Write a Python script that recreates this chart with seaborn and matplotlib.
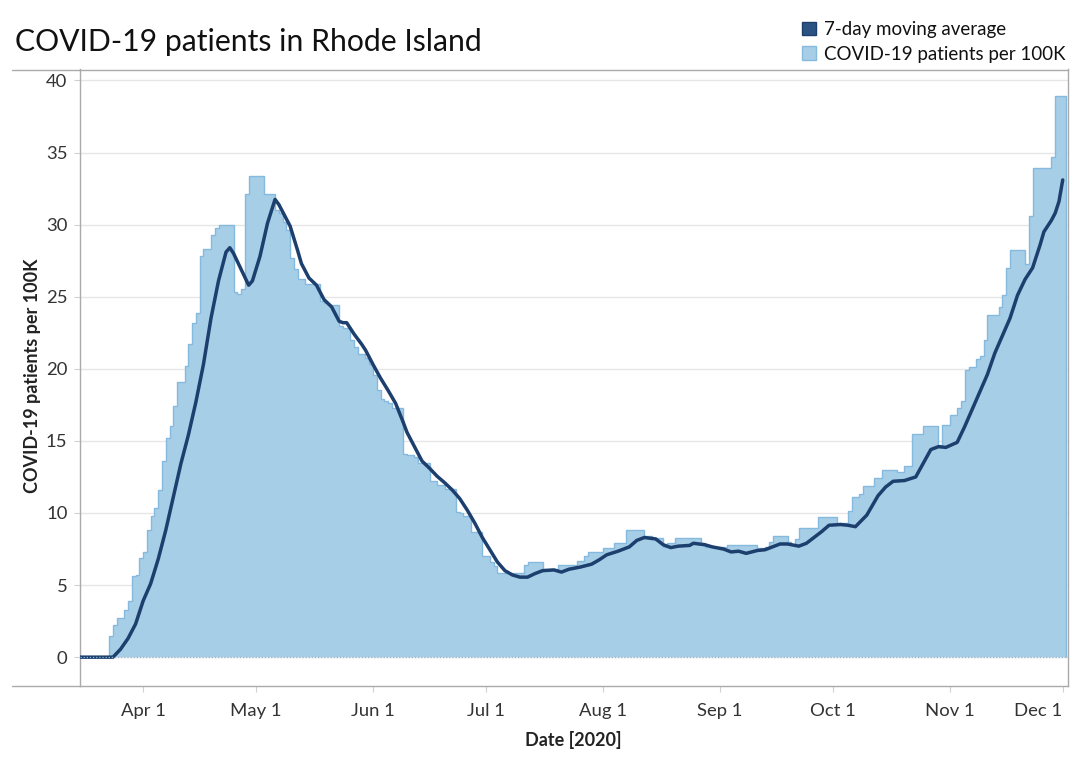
import pandas as pd
import matplotlib
matplotlib.use("Agg")
import matplotlib.pyplot as plt
import matplotlib.dates as mdates
from matplotlib.patches import Patch
from matplotlib.lines import Line2D
import seaborn as sns

# Pacientes COVID-19 por 100K (valores diarios)
start_date = "2020-03-15"
patients_mar = [0, 0, 0, 0, 0, 0, 0, 0, 1.46, 2.2, 2.7, 2.75, 3.3, 3.9, 5.6, 5.7, 6.9]
patients_apr = [7.3, 8.8, 9.8, 10.35, 11.6, 13.6, 15.2, 16.0, 17.4, 19.1,
                19.1, 20.2, 21.7, 23.2, 23.9, 27.8, 28.3, 28.3, 29.3, 29.8,
                30.0, 30.0, 30.0, 30.0, 25.3, 25.2, 25.55, 32.15, 33.4, 33.4]
patients_may = [33.4, 33.4, 32.15, 32.15, 32.15, 31.0, 30.8, 30.2, 29.6, 27.7,
                26.9, 26.25, 26.25, 25.9, 25.9, 25.9, 25.9, 24.7, 24.55, 24.4,
                24.4, 24.4, 23.0, 22.8, 22.8, 22.0, 21.5, 21.05, 21.05, 20.75, 20.35]
patients_jun = [19.6, 18.55, 17.9, 17.75, 17.6, 17.3, 17.3, 17.3, 14.1, 14.0,
                14.0, 13.9, 13.45, 13.45, 13.45, 12.25, 12.25, 11.95, 11.95, 11.65,
                11.65, 11.65, 10.1, 10.0, 9.8, 9.8, 8.7, 8.7, 8.7, 7.0]
patients_jul = [7.0, 6.6, 6.3, 5.85, 5.85, 5.85, 5.85, 5.85, 5.85, 5.85,
                6.4, 6.6, 6.6, 6.6, 6.6, 6.1, 6.1, 6.1, 6.1, 6.4,
                6.4, 6.4, 6.4, 6.4, 6.7, 6.7, 7.0, 7.3, 7.3, 7.3, 7.3]
patients_aug = [7.6, 7.6, 7.6, 7.95, 7.95, 7.95, 8.8, 8.8, 8.8, 8.8,
                8.8, 8.4, 8.4, 8.25, 8.25, 8.25, 7.65, 7.95, 7.95, 8.25,
                8.25, 8.25, 8.25, 8.25, 8.25, 8.25, 7.9, 7.65, 7.65, 7.65, 7.65]
patients_sep = [7.65, 7.65, 7.8, 7.8, 7.8, 7.8, 7.8, 7.8, 7.8, 7.8,
                7.6, 7.6, 7.65, 8.0, 8.4, 8.4, 8.4, 8.4, 8.0, 7.8,
                8.2, 8.95, 8.95, 8.95, 8.95, 8.95, 9.75, 9.75, 9.75, 9.75]
patients_oct = [9.75, 9.3, 9.3, 9.3, 10.15, 11.1, 11.1, 11.35, 11.9, 11.9,
                11.9, 12.4, 12.4, 13.0, 13.0, 13.0, 13.0, 12.85, 12.85, 13.25,
                13.25, 15.5, 15.5, 15.5, 16.0, 16.0, 16.0, 16.0, 14.7, 16.1, 16.1]
patients_nov = [16.8, 16.8, 17.3, 17.8, 19.9, 20.1, 20.1, 20.7, 20.9, 22.0,
                23.75, 23.75, 23.75, 24.3, 25.1, 27.0, 28.25, 28.25, 28.25, 28.25,
                27.3, 30.6, 33.9, 33.9, 33.9, 33.9, 33.9, 34.7, 38.9, 38.9]
patients_dec = [38.9]

# Media movel de 7 dias
ma_dates = ["2020-03-15", "2020-03-24", "2020-03-26", "2020-03-28", "2020-03-30",
            "2020-04-01", "2020-04-03", "2020-04-05", "2020-04-07", "2020-04-09",
            "2020-04-11", "2020-04-13", "2020-04-15", "2020-04-17", "2020-04-19",
            "2020-04-21", "2020-04-23", "2020-04-24", "2020-04-25", "2020-04-27",
            "2020-04-29", "2020-04-30", "2020-05-02", "2020-05-04", "2020-05-06",
            "2020-05-07", "2020-05-08", "2020-05-10", "2020-05-12", "2020-05-13",
            "2020-05-15", "2020-05-17", "2020-05-19", "2020-05-21", "2020-05-23",
            "2020-05-24", "2020-05-25", "2020-05-27", "2020-05-29", "2020-05-30",
            "2020-06-01", "2020-06-03", "2020-06-05", "2020-06-07", "2020-06-09",
            "2020-06-10", "2020-06-12", "2020-06-14", "2020-06-16", "2020-06-18",
            "2020-06-20", "2020-06-22", "2020-06-24", "2020-06-26", "2020-06-28",
            "2020-06-30", "2020-07-02", "2020-07-04", "2020-07-06", "2020-07-08",
            "2020-07-10", "2020-07-12", "2020-07-14", "2020-07-16", "2020-07-19",
            "2020-07-21", "2020-07-23", "2020-07-26", "2020-07-29", "2020-07-31",
            "2020-08-02", "2020-08-05", "2020-08-08", "2020-08-10", "2020-08-12",
            "2020-08-15", "2020-08-17", "2020-08-19", "2020-08-21", "2020-08-24",
            "2020-08-25", "2020-08-28", "2020-08-30", "2020-09-02", "2020-09-04",
            "2020-09-06", "2020-09-08", "2020-09-11", "2020-09-13", "2020-09-17",
            "2020-09-19", "2020-09-22", "2020-09-24", "2020-09-28", "2020-09-30",
            "2020-10-03", "2020-10-05", "2020-10-07", "2020-10-10", "2020-10-13",
            "2020-10-15", "2020-10-17", "2020-10-20", "2020-10-23", "2020-10-25",
            "2020-10-27", "2020-10-29", "2020-10-31", "2020-11-03", "2020-11-05",
            "2020-11-07", "2020-11-09", "2020-11-11", "2020-11-13", "2020-11-15",
            "2020-11-17", "2020-11-19", "2020-11-21", "2020-11-23", "2020-11-25",
            "2020-11-26", "2020-11-28", "2020-11-29", "2020-11-30", "2020-12-01"]
ma_values = [0, 0, 0.55, 1.3, 2.3,
             3.9, 5.1, 6.8, 8.8, 11.1,
             13.4, 15.4, 17.7, 20.3, 23.5,
             26.1, 28.1, 28.4, 28.0, 26.9,
             25.8, 26.1, 27.8, 30.1, 31.75,
             31.4, 30.9, 29.9, 28.2, 27.3,
             26.3, 25.8, 24.8, 24.3, 23.3,
             23.2, 23.2, 22.4, 21.7, 21.3,
             20.3, 19.35, 18.5, 17.6, 16.3,
             15.6, 14.6, 13.6, 13.1, 12.55,
             12.1, 11.6, 11.0, 10.2, 9.3,
             8.3, 7.45, 6.6, 6.0, 5.7,
             5.55, 5.55, 5.8, 6.0, 6.05,
             5.9, 6.1, 6.25, 6.45, 6.75,
             7.1, 7.35, 7.65, 8.1, 8.3,
             8.2, 7.8, 7.6, 7.7, 7.75,
             7.9, 7.8, 7.65, 7.5, 7.3,
             7.35, 7.2, 7.4, 7.45, 7.85,
             7.85, 7.7, 7.9, 8.7, 9.15,
             9.2, 9.15, 9.05, 9.85, 11.2,
             11.8, 12.2, 12.25, 12.5, 13.45,
             14.4, 14.6, 14.55, 14.9, 16.0,
             17.2, 18.4, 19.6, 21.1, 22.3,
             23.5, 25.1, 26.2, 27.0, 28.6,
             29.5, 30.3, 30.8, 31.6, 33.1]

tick_dates = ["2020-04-01", "2020-05-01", "2020-06-01", "2020-07-01", "2020-08-01",
              "2020-09-01", "2020-10-01", "2020-11-01", "2020-12-01"]
tick_labels = ["Apr 1", "May 1", "Jun 1", "Jul 1", "Aug 1", "Sep 1", "Oct 1", "Nov 1", "Dec 1"]
y_ticks = [0, 5, 10, 15, 20, 25, 30, 35, 40]

daily = (patients_mar + patients_apr + patients_may + patients_jun + patients_jul
         + patients_aug + patients_sep + patients_oct + patients_nov + patients_dec)
dates = pd.date_range(start_date, periods=len(daily), freq="D")
edges = mdates.date2num(pd.date_range(start_date, periods=len(daily) + 1, freq="D"))
ma_df = pd.DataFrame({"date": pd.to_datetime(ma_dates), "ma": ma_values})

sns.set_style("white")
plt.rcParams["font.family"] = ["Lato", "DejaVu Sans"]

area_color = "#a6cee6"
edge_color = "#85b9de"
line_color = "#1d3f6e"
text_color = "#333333"
border = "#aaaaaa"

fig = plt.figure(figsize=(10.8, 7.7), dpi=100)
ax = fig.add_axes([80 / 1080, 84 / 770, 988 / 1080, 616.5 / 770])

# Area em degraus (valores diarios)
ax.stairs(daily, edges, fill=True, color=area_color, zorder=2, linewidth=0)
ax.stairs(daily, edges, fill=False, color=edge_color, linewidth=1.0, zorder=3)

# Linha da media movel
sns.lineplot(data=ma_df, x="date", y="ma", ax=ax, color=line_color,
             linewidth=2.5, estimator=None, zorder=4)

ax.axhline(0, color="#8fb6d6", linewidth=0.9, linestyle=(0, (1, 1.5)), zorder=5)

ax.set_xlim(mdates.date2num(pd.Timestamp(start_date)) + 0.25,
            mdates.date2num(pd.Timestamp(start_date)) + 262.4)
ax.set_ylim(-2.0, 40.76)

ax.set_yticks(y_ticks)
ax.set_yticklabels([str(v) for v in y_ticks], fontsize=13.3, color=text_color)
ax.set_xticks(mdates.date2num(pd.to_datetime(tick_dates)))
ax.set_xticklabels(tick_labels, fontsize=13.3, color=text_color)
ax.get_xticklabels()[-1].set_horizontalalignment("right")

ax.tick_params(axis="x", length=4, width=0.8, color="#d0d0d0", pad=8, bottom=True)
ax.tick_params(axis="y", length=4, width=0.8, color="#d0d0d0", pad=5, left=True)
ax.yaxis.grid(True, color="#e6e6e6", linewidth=1.0)
ax.set_axisbelow(True)
for s in ax.spines.values():
    s.set_color(border)
    s.set_linewidth(1.0)
    s.set_visible(True)
ax.set_xlabel("")
ax.set_ylabel("")

# Linhas de moldura que passam da area do grafico
fig.add_artist(Line2D([12 / 1080, 80 / 1080], [1 - 69.5 / 770] * 2, color=border, lw=1.0))
fig.add_artist(Line2D([12 / 1080, 80 / 1080], [1 - 686 / 770] * 2, color=border, lw=1.0))

fig.text(15 / 1080, 1 - 51 / 770, "COVID-19 patients in Rhode Island",
         fontsize=21.7, color="#111111", va="baseline", ha="left")
fig.text(33 / 1080, 1 - 376 / 770, "COVID-19 patients per 100K", rotation=90,
         fontsize=13, fontweight="bold", color="#222222", ha="center", va="center")
fig.text(573 / 1080, 1 - 740 / 770, "Date [2020]",
         fontsize=13, fontweight="bold", color="#222222", ha="center", va="center")

handles = [Patch(facecolor="#2a5283", edgecolor="#1d3f6e"),
           Patch(facecolor=area_color, edgecolor=edge_color)]
fig.legend(handles, ["7-day moving average", "COVID-19 patients per 100K"],
           loc="upper left", bbox_to_anchor=(802 / 1080, 1 - 21 / 770),
           frameon=False, fontsize=13.5, handlelength=0.75, handleheight=0.75,
           handletextpad=0.45, labelspacing=0.42, borderpad=0, borderaxespad=0,
           labelcolor="#111111")

fig.savefig("out.png", dpi=100)
